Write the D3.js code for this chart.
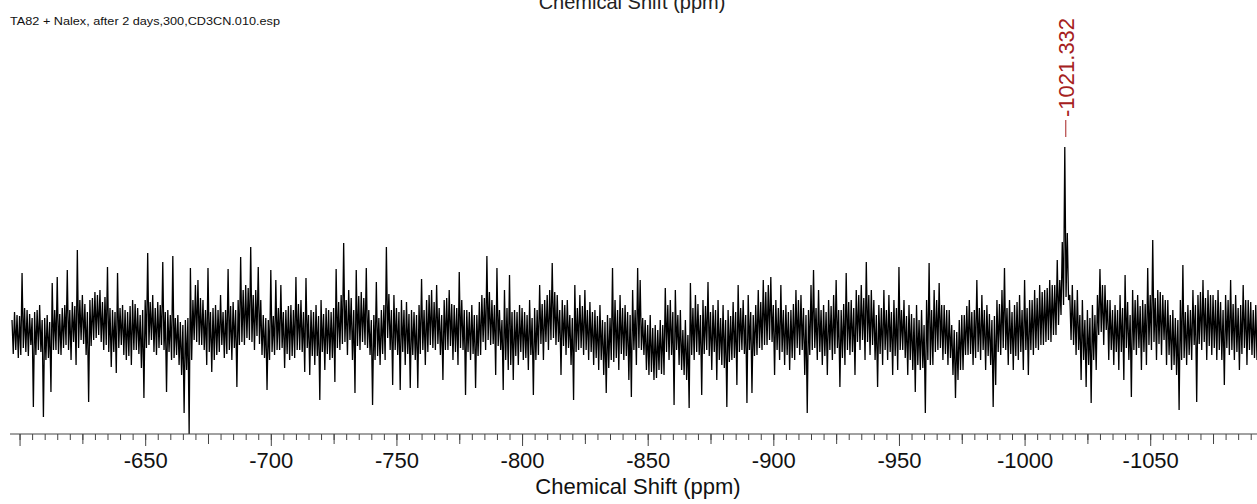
<!DOCTYPE html>
<html>
<head>
<meta charset="utf-8">
<script src="https://cdn.jsdelivr.net/npm/d3@7"></script>
<style>
  body { margin: 0; background: #fff; }
  svg { display: block; font-family: "Liberation Sans", Arial, sans-serif; }
</style>
</head>
<body>
<svg id="chart" width="1257" height="504"></svg>
<script>
// spectrum title / file name
const fileName = "TA82 + Nalex, after 2 days,300,CD3CN.010.esp";
const axisTitle = "Chemical Shift (ppm)";

// axis ticks (ppm)
const tickLabels = [-650, -700, -750, -800, -850, -900, -950, -1000, -1050];

// peak annotation
const peakShift = -1016;
const peakLabel = "-1021.332";

const firstShift = -597;
const shiftStep = -1;
const upper = [
  10, 18, 15, 14, 57, 22, 20, 16, 12, 18, 20, 25, 10, 12, 15, 8, 47, 20, 53, 16,
  22, 25, 60, 20, 28, 24, 80, 30, 35, 26, 18, 30, 32, 38, 35, 40, 28, 33, 63, 22,
  20, 18, 57, 22, 25, 20, 18, 24, 30, 26, 22, 15, 20, 30, 77, 28, 35, 22, 28, 25,
  68, 18, 20, 15, 74, 12, 15, 8, 5, 10, 12, 62, 30, 45, 50, 32, 30, 20, 62, 18,
  22, 25, 20, 35, 18, 20, 61, 24, 28, 20, 30, 73, 40, 45, 42, 83, 35, 40, 63, 30,
  15, 12, 10, 60, 14, 50, 22, 45, 18, 20, 24, 25, 20, 53, 26, 30, 18, 52, 15, 20,
  18, 25, 14, 30, 16, 22, 20, 18, 22, 61, 28, 35, 87, 30, 40, 32, 20, 60, 34, 38,
  32, 62, 20, 10, 15, 48, 12, 20, 25, 83, 36, 20, 35, 22, 18, 30, 20, 28, 16, 20,
  18, 15, 25, 51, 20, 30, 35, 40, 28, 45, 22, 15, 30, 32, 40, 26, 25, 22, 58, 30,
  20, 20, 18, 25, 15, 15, 28, 35, 32, 74, 38, 30, 25, 62, 20, 10, 40, 22, 55, 18,
  20, 18, 25, 22, 18, 15, 30, 12, 22, 20, 45, 26, 30, 35, 40, 67, 38, 35, 20, 30,
  25, 30, 15, 12, 45, 22, 35, 24, 40, 20, 28, 18, 20, 14, 25, 10, 8, 15, 12, 62,
  30, 20, 35, 22, 25, 18, 15, 40, 20, 62, 50, 12, 10, 5, 15, 2, 5, 0, 10, 5,
  42, 25, 30, 18, 40, 15, 20, 0, 10, -5, 47, 22, 35, 26, 15, 30, 24, 48, 18, 25,
  20, 30, 12, 25, 10, 20, 14, 28, 18, 45, 22, 30, 15, 35, 18, 15, 25, 40, 28, 50,
  38, 45, 53, 25, 30, 22, 45, 20, 25, 18, 20, 26, 40, 30, 35, 22, 15, 20, 45, 60,
  22, 40, 20, 25, 18, 30, 24, 35, 50, 20, 20, 26, 57, 28, 30, 22, 40, 35, 45, 32,
  68, 35, 40, 30, 15, 25, 22, 40, 20, 35, 18, 30, 22, 63, 20, 30, 14, 25, 16, 12,
  25, 10, 20, 5, 30, 67, 20, 40, 30, 47, 25, 25, 20, 20, 5, 0, -2, 10, 15, 15,
  24, 30, 18, 20, 50, 22, 35, 20, 25, 16, 10, 14, 30, 26, 40, 62, 22, 30, 18, 25,
  28, 35, 20, 50, 22, 30, 30, 40, 32, 45, 38, 40, 42, 50, 45, 45, 70, 50, 88, 183,
  97, 35, 45, 30, 40, 15, 30, 10, 20, 12, 25, 15, 35, 61, 45, 45, 30, 30, 20, 25,
  20, 35, 22, 55, 28, 15, 40, 30, 35, 24, 30, 26, 62, 35, 90, 32, 40, 38, 35, 30,
  30, 15, 20, 12, 10, 30, 65, 18, 25, 20, 40, 25, 35, 38, 50, 32, 40, 35, 35, 30,
  40, 28, 20, 35, 30, 50, 26, 35, 22, 25, 45, 30, 30, 28, 20, 25
];
const lower = [
  -24, -20, -28, -25, -18, -22, -26, -15, -77, -25, -20, -22, -87, -30, -28, -62, -20, -20, -24, -25,
  -18, -15, -20, -30, -12, -35, -18, -10, -14, -25, -72, -16, -10, -8, -5, -12, -20, -15, -22, -37,
  -22, -43, -18, -15, -25, -30, -26, -35, -20, -20, -24, -38, -68, -18, -15, -10, -22, -25, -18, -15,
  -20, -62, -22, -30, -28, -25, -35, -45, -83, -40, -104, -30, -10, -12, -15, -15, -20, -35, -22, -42,
  -30, -25, -22, -15, -28, -24, -20, -30, -18, -57, -15, -12, -15, -8, -10, -12, -20, -6, -14, -25,
  -28, -60, -30, -22, -25, -20, -20, -18, -38, -24, -30, -26, -28, -20, -20, -22, -42, -18, -45, -26,
  -35, -26, -70, -22, -40, -24, -30, -28, -52, -18, -20, -14, -12, -25, -10, -30, -63, -16, -20, -12,
  -15, -18, -25, -75, -30, -26, -35, -24, -30, -8, -20, -55, -20, -25, -60, -22, -35, -24, -58, -25,
  -30, -58, -24, -20, -35, -22, -15, -18, -20, -14, -25, -50, -20, -20, -16, -30, -22, -35, -18, -20,
  -65, -22, -30, -24, -58, -26, -25, -12, -20, -10, -15, -14, -45, -16, -20, -60, -30, -40, -35, -50,
  -26, -35, -22, -30, -28, -40, -25, -65, -30, -25, -14, -30, -12, -20, -10, -8, -15, -12, -45, -16,
  -25, -18, -35, -70, -22, -20, -18, -25, -20, -30, -22, -35, -28, -40, -30, -45, -63, -38, -30, -32,
  -28, -40, -24, -30, -26, -50, -67, -20, -35, -18, -20, -25, -40, -45, -42, -50, -48, -40, -44, -45,
  -22, -30, -25, -75, -20, -35, -40, -45, -50, -78, -25, -30, -22, -25, -65, -24, -20, -26, -40, -22,
  -50, -30, -35, -38, -77, -32, -30, -28, -55, -22, -20, -24, -73, -20, -63, -26, -25, -18, -20, -15,
  -15, -10, -12, -45, -20, -30, -22, -35, -25, -40, -28, -30, -18, -25, -20, -45, -83, -25, -20, -18,
  -30, -22, -35, -26, -45, -20, -30, -24, -18, -57, -28, -35, -20, -25, -22, -45, -12, -20, -10, -30,
  -12, -25, -15, -30, -57, -24, -35, -20, -30, -22, -45, -26, -40, -20, -20, -28, -45, -30, -40, -62,
  -35, -40, -38, -83, -30, -35, -35, -22, -20, -18, -30, -24, -35, -28, -45, -68, -50, -40, -40, -25,
  -25, -24, -35, -28, -22, -30, -20, -40, -26, -35, -77, -55, -22, -25, -18, -20, -35, -24, -40, -26,
  -30, -22, -40, -20, -45, -20, -25, -18, -20, -15, -15, -12, -10, -12, -5, -5, 5, 15, 25, 33,
  30, -10, -15, -25, -20, -50, -30, -57, -35, -73, -30, -40, -5, -2, -15, 0, -30, -20, -35, -22,
  -40, -22, -50, -18, -30, -67, -20, -25, -18, -40, -22, -35, -15, -20, -12, -30, -14, -25, -10, -35,
  -25, -40, -35, -45, -80, -30, -28, -35, -25, -30, -15, -72, -14, -20, -12, -30, -16, -25, -18, -30,
  -20, -30, -55, -18, -25, -20, -30, -22, -40, -24, -18, -35, -20, -25, -28, -30
];

const svg = d3.select("#chart");
const width = 1257;

// ppm axis runs right to left (more negative to the right)
const x = d3.scaleLinear().domain([-596.2, -1092.5]).range([10, 1257]);
const y = d3.scaleLinear().domain([0, 183]).range([330, 147]);
const axisY = 434;

// trace goes max -> min inside each bin
const points = [];
upper.forEach((v, i) => {
    const s = firstShift + i * shiftStep;
    points.push({ shift: s, v: v });
    points.push({ shift: s + shiftStep / 2, v: lower[i] });
});

// file name, top left
svg.append("text")
    .attr("x", 10)
    .attr("y", 25)
    .attr("font-size", 11)
    .attr("textLength", 270)
    .attr("lengthAdjust", "spacingAndGlyphs")
    .attr("fill", "#111")
    .text(fileName);

// top axis title, cut by the top edge as in the original
svg.append("text")
    .attr("x", 632)
    .attr("y", 8.5)
    .attr("text-anchor", "middle")
    .attr("font-size", 20)
    .attr("fill", "#222")
    .text(axisTitle);

// spectrum
const line = d3.line()
    .x(d => x(d.shift))
    .y(d => y(d.v));

svg.append("path")
    .datum(points)
    .attr("fill", "none")
    .attr("stroke", "#000")
    .attr("stroke-width", 1.3)
    .attr("d", line);

// peak annotation
const px = x(peakShift);
svg.append("line")
    .attr("x1", px + 1).attr("x2", px + 1)
    .attr("y1", 120).attr("y2", 137)
    .attr("stroke", "#a52020")
    .attr("stroke-width", 1);

svg.append("text")
    .attr("transform", `translate(${px + 9},117) rotate(-90)`)
    .attr("font-size", 22)
    .attr("fill", "#a52020")
    .text(peakLabel);

// axis: minor / medium / major ticks
const minorTicks = d3.range(-600, -1093, -5);
const mediumTicks = minorTicks.filter(t => t % 25 === 0 && t % 50 !== 0);
const majorTicks = minorTicks.filter(t => t % 50 === 0);

const gAxis = svg.append("g").attr("transform", `translate(0,${axisY})`);

gAxis.append("g")
    .call(d3.axisBottom(x).tickValues(minorTicks).tickSize(6).tickSizeOuter(0).tickFormat(""))
    .call(g => g.select(".domain").remove());

gAxis.append("g")
    .call(d3.axisBottom(x).tickValues(mediumTicks).tickSize(10).tickSizeOuter(0).tickFormat(""))
    .call(g => g.select(".domain").remove());

gAxis.append("g")
    .call(d3.axisBottom(x).tickValues(majorTicks).tickSize(12).tickSizeOuter(0)
        .tickPadding(6)
        .tickFormat(d => tickLabels.includes(d) ? d : ""))
    .call(g => g.select(".domain").remove())
    .call(g => g.selectAll("text")
        .attr("font-size", 22)
        .attr("font-family", "Liberation Sans, Arial, sans-serif")
        .attr("fill", "#111"));

gAxis.selectAll(".tick line").attr("stroke", "#444");

gAxis.append("line")
    .attr("x1", 10).attr("x2", width)
    .attr("y1", 0).attr("y2", 0)
    .attr("stroke", "#444")
    .attr("stroke-width", 1);

// bottom axis title
svg.append("text")
    .attr("x", 638)
    .attr("y", 494)
    .attr("text-anchor", "middle")
    .attr("font-size", 22)
    .attr("fill", "#111")
    .text(axisTitle);
</script>
</body>
</html>
